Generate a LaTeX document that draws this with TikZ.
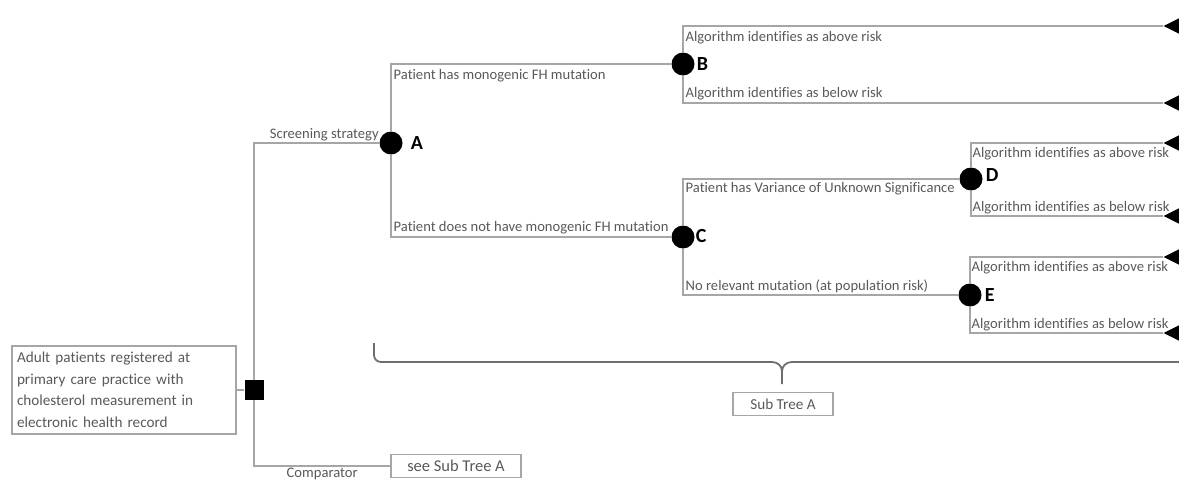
\documentclass[tikz,border=0pt]{standalone}
\usepackage{fontspec}
\setmainfont[Ligatures=NoCommon]{Carlito}
\usepackage{xcolor}
\usetikzlibrary{positioning,shapes.geometric}
\definecolor{linegray}{HTML}{A6A6A6}
\definecolor{bracegray}{HTML}{6E6E6E}
\definecolor{textgray}{HTML}{595959}
\tikzset{
  chance/.style={circle,fill=black,minimum size=23pt,inner sep=0pt},
  decision/.style={rectangle,fill=black,minimum width=19pt,minimum height=20pt,inner sep=0pt},
  terminal/.style={isosceles triangle,isosceles triangle stretches,shape border rotate=180,fill=black,minimum height=20pt,minimum width=20pt,inner sep=0pt},
  branch/.style={draw=linegray,line width=1.3pt},
  brace/.style={draw=bracegray,line width=1.8pt},
  lbl/.style={text=textgray,font=\fontsize{14.6}{16}\selectfont,inner sep=2pt},
  under/.style={lbl,below right,yshift=-3pt},
  over/.style={lbl,above right},
  letter/.style={font=\fontsize{20}{22}\selectfont\bfseries,inner sep=0pt},
  box/.style={draw=linegray,line width=1.2pt,text=textgray,align=left,font=\fontsize{15.2}{21.5}\selectfont,inner sep=5pt}
}
\begin{document}
\begin{tikzpicture}[x=1pt,y=-1pt]
  \clip (0,0) rectangle (1179,482);
  % start and decision
  \node (root) [box,text width=214pt,minimum height=88pt] at (124,390) {Adult patients registered at\\primary care practice with\\cholesterol measurement in\\electronic health record};
  \node (dec) [decision] at (254,390) {};
  \node (seeA) [box,minimum width=130pt,minimum height=23pt,inner sep=2pt,align=center,font=\fontsize{16.5}{18}\selectfont] at (456,466) {see Sub Tree A};

  % chance nodes
  \node (A) [chance] at (391,143) {};
  \node (B) [chance] at (683,64) {};
  \node (C) [chance] at (683,237) {};
  \node (D) [chance] at (971,179) {};
  \node (E) [chance] at (970,295) {};
  \node (labA) [letter,right=8pt of A] {A};
  \node (labB) [letter,right=2pt of B] {B};
  \node (labC) [letter,right=1pt of C,yshift=1pt] {C};
  \node (labD) [letter,right=3pt of D,yshift=4pt] {D};
  \node (labE) [letter,right=3pt of E] {E};

  % terminal nodes
  \node (tB1) [terminal,anchor=apex] at (1163,26) {};
  \node (tB2) [terminal,anchor=apex] at (1163,103) {};
  \node (tD1) [terminal,anchor=apex] at (1163,143) {};
  \node (tD2) [terminal,anchor=apex] at (1163,216) {};
  \node (tE1) [terminal,anchor=apex] at (1163,257) {};
  \node (tE2) [terminal,anchor=apex] at (1163,333) {};

  % branches
  \draw[branch] (root) -- (dec);
  \draw[branch] (dec) |- node[lbl,pos=1,above left,xshift=2pt,yshift=-1pt] {Screening strategy} (A);
  \draw[branch] (dec) |- node[lbl,pos=0.75,below,yshift=1pt] {Comparator} (seeA);
  \draw[branch] (A) |- node[under,pos=0.5] {Patient has monogenic FH mutation} (B);
  \draw[branch] (A) |- node[over,pos=0.5] {Patient does not have monogenic FH mutation} (C);
  \draw[branch] (B) |- node[under,pos=0.5] {Algorithm identifies as above risk} (tB1);
  \draw[branch] (B) |- node[over,pos=0.5] {Algorithm identifies as below risk} (tB2);
  \draw[branch] (C) |- node[under,pos=0.5,yshift=2pt] {Patient has Variance of Unknown Significance} (D);
  \draw[branch] (C) |- node[over,pos=0.5] {No relevant mutation (at population risk)} (E);
  \draw[branch] (D) |- node[under,pos=0.5,inner sep=1pt] {Algorithm identifies as above risk} (tD1);
  \draw[branch] (D) |- node[over,pos=0.5,inner sep=1pt] {Algorithm identifies as below risk} (tD2);
  \draw[branch] (E) |- node[under,pos=0.5,inner sep=1pt] {Algorithm identifies as above risk} (tE1);
  \draw[branch] (E) |- node[over,pos=0.5,inner sep=1pt] {Algorithm identifies as below risk} (tE2);

  % sub tree brace
  \node (subA) [box,minimum width=100pt,minimum height=23pt,inner sep=2pt,align=center] at (783,404) {Sub Tree A};
  \coordinate (braceL) at (374,343);
  \coordinate (braceR) at (1185,362);
  \coordinate (braceT) at (782,384);
  \draw[brace] (braceL) -- (374,355) to[out=-90,in=180] (381,362) -- (772,362) to[out=0,in=90] (782,371) -- (braceT);
  \draw[brace] (braceR) -- (792,362) to[out=180,in=90] (782,371);
\end{tikzpicture}
\end{document}
